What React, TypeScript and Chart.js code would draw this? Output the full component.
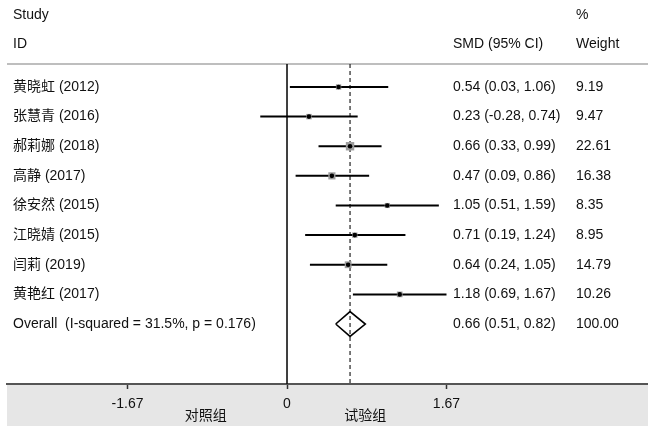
import React, { useEffect, useRef } from "react";
import { Chart, registerables } from "chart.js";

Chart.register(...registerables);

const studies = ["黄晓虹 (2012)", "张慧青 (2016)", "郝莉娜 (2018)", "高静 (2017)", "徐安然 (2015)", "江晓婧 (2015)", "闫莉 (2019)", "黄艳红 (2017)"];
const smd = [0.54, 0.23, 0.66, 0.47, 1.05, 0.71, 0.64, 1.18];
const lower = [0.03, -0.28, 0.33, 0.09, 0.51, 0.19, 0.24, 0.69];
const upper = [1.06, 0.74, 0.99, 0.86, 1.59, 1.24, 1.05, 1.67];
const weights = [9.19, 9.47, 22.61, 16.38, 8.35, 8.95, 14.79, 10.26];
const overallLabel = "Overall  (I-squared = 31.5%, p = 0.176)";
const overallSmd = 0.66;
const overallLower = 0.51;
const overallUpper = 0.82;
const overallWeight = "100.00";
const xTicks = [-1.67, 0, 1.67];
const leftGroup = "对照组";
const rightGroup = "试验组";

const FONT = '"Liberation Sans", Arial, "Noto Sans CJK SC", sans-serif';
const X_MIN = -2.932;
const X_MAX = 3.78;
const Y_MIN = 0.224;
const Y_MAX = 11.025;

const fmt = (v: number) => v.toFixed(2);

export default function App() {
  const ref = useRef<HTMLCanvasElement | null>(null);

  useEffect(() => {
    if (!ref.current) return;
    const n = studies.length;
    const overallRow = n + 1;

    const ciSets = studies.map((_, i) => ({
      data: [
        { x: lower[i], y: i + 1 },
        { x: upper[i], y: i + 1 },
      ],
      showLine: true,
      borderColor: "#000",
      borderWidth: 2,
      pointRadius: 0,
      order: 3,
    }));

    const textPlugin = {
      id: "forestText",
      beforeDraw(chart: any) {
        const { ctx, chartArea } = chart;
        ctx.save();
        ctx.fillStyle = "#fff";
        ctx.fillRect(0, 0, chart.width, chart.height);
        ctx.fillStyle = "#e6e6e6";
        ctx.fillRect(chartArea.left, chartArea.bottom, chart.width - chartArea.left, chart.height - chartArea.bottom);
        ctx.strokeStyle = "#a8a8a8";
        ctx.lineWidth = 1.5;
        ctx.beginPath();
        ctx.moveTo(chartArea.left, chartArea.top);
        ctx.lineTo(chart.width, chartArea.top);
        ctx.stroke();
        ctx.restore();
      },
      afterDraw(chart: any) {
        const { ctx } = chart;
        const ys = chart.scales.y;
        const xs = chart.scales.x;
        ctx.save();
        ctx.font = `14px ${FONT}`;
        ctx.fillStyle = "#111";
        ctx.textBaseline = "middle";
        ctx.textAlign = "left";
        const colName = 13;
        const colEst = 453;
        const colW = 576;
        ctx.fillText("Study", colName, 15);
        ctx.fillText("ID", colName, 44);
        ctx.fillText("%", colW, 15);
        ctx.fillText("Weight", colW, 44);
        ctx.fillText("SMD (95% CI)", colEst, 44);
        studies.forEach((s, i) => {
          const y = ys.getPixelForValue(i + 1);
          ctx.fillText(s, colName, y);
          ctx.fillText(`${fmt(smd[i])} (${fmt(lower[i])}, ${fmt(upper[i])})`, colEst, y);
          ctx.fillText(fmt(weights[i]), colW, y);
        });
        const yo = ys.getPixelForValue(overallRow);
        ctx.fillText(overallLabel, colName, yo);
        ctx.fillText(`${fmt(overallSmd)} (${fmt(overallLower)}, ${fmt(overallUpper)})`, colEst, yo);
        ctx.fillText(overallWeight, colW, yo);
        ctx.textAlign = "center";
        ctx.fillText(leftGroup, xs.getPixelForValue(-0.85), 416);
        ctx.fillText(rightGroup, xs.getPixelForValue(0.82), 416);
        ctx.restore();
      },
    };

    const chart = new Chart(ref.current, {
      type: "scatter",
      data: {
        datasets: [
          {
            data: [
              { x: 0, y: Y_MIN },
              { x: 0, y: Y_MAX },
            ],
            showLine: true,
            borderColor: "#111",
            borderWidth: 1.6,
            pointRadius: 0,
            order: 5,
          },
          {
            data: [
              { x: overallSmd, y: Y_MIN },
              { x: overallSmd, y: Y_MAX },
            ],
            showLine: true,
            borderColor: "#222",
            borderWidth: 1.2,
            borderDash: [4, 3],
            pointRadius: 0,
            order: 4,
          },
          ...ciSets,
          {
            data: smd.map((v, i) => ({ x: v, y: i + 1 })),
            pointStyle: "rect",
            pointRadius: weights.map((w) => 1.25 * Math.sqrt(w)),
            backgroundColor: "#9c9c9c",
            borderWidth: 0,
            order: 2,
          },
          {
            data: smd.map((v, i) => ({ x: v, y: i + 1 })),
            pointStyle: "circle",
            pointRadius: 2.3,
            backgroundColor: "#000",
            borderWidth: 0,
            order: 1,
          },
          {
            data: [
              { x: overallLower, y: overallRow },
              { x: overallSmd, y: overallRow - 0.42 },
              { x: overallUpper, y: overallRow },
              { x: overallSmd, y: overallRow + 0.42 },
              { x: overallLower, y: overallRow },
            ],
            showLine: true,
            borderColor: "#000",
            borderWidth: 1.6,
            pointRadius: 0,
            tension: 0,
            order: 0,
          },
        ] as any,
      },
      options: {
        animation: false,
        responsive: false,
        devicePixelRatio: 1,
        layout: { autoPadding: false, padding: { left: 7, right: 0, top: 64, bottom: 0 } },
        plugins: { legend: { display: false }, tooltip: { enabled: false } },
        events: [],
        scales: {
          x: {
            type: "linear",
            min: X_MIN,
            max: X_MAX,
            afterBuildTicks: (scale: any) => {
              scale.ticks = xTicks.map((v) => ({ value: v }));
            },
            afterFit: (scale: any) => {
              scale.height = 42;
            },
            ticks: {
              autoSkip: false,
              maxRotation: 0,
              padding: 7,
              color: "#111",
              font: { family: FONT, size: 14 },
              callback: (v: any) => String(v),
            },
            grid: {
              drawOnChartArea: false,
              drawTicks: true,
              tickLength: 5,
              tickColor: "#333",
              tickWidth: 1.5,
            },
            border: { display: true, color: "#555", width: 2 },
          },
          y: {
            type: "linear",
            display: false,
            reverse: true,
            min: Y_MIN,
            max: Y_MAX,
          },
        },
      },
      plugins: [textPlugin],
    } as any);
    return () => chart.destroy();
  }, []);

  return (
    <div style={{ position: "fixed", left: 0, top: 0, width: 648, height: 426 }}>
      <canvas ref={ref} width={648} height={426} />
    </div>
  );
}
